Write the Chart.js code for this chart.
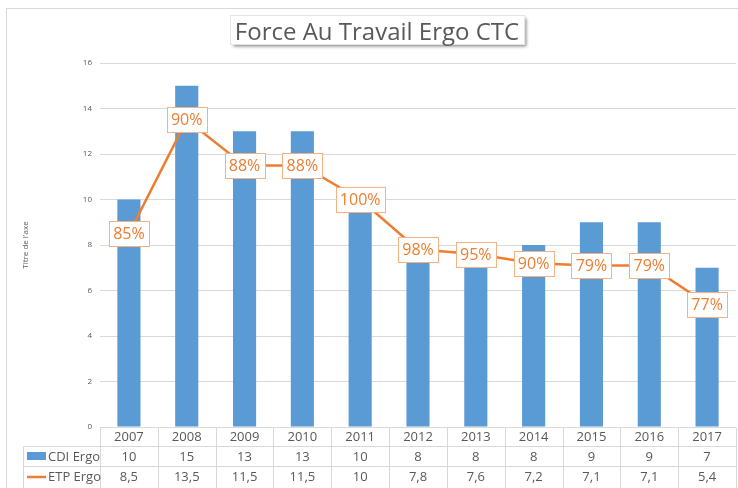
<!DOCTYPE html>
<html>
<head>
<meta charset="utf-8">
<script src="https://cdn.jsdelivr.net/npm/chart.js@4/dist/chart.umd.min.js"></script>
<style>
  html, body { margin: 0; padding: 0; background: #ffffff; }
  #wrap { width: 738px; height: 488px; }
</style>
</head>
<body>
<div id="wrap"><canvas id="c" width="738" height="488"></canvas></div>
<script>
// Years and the two series shown in the chart and in its data table
const years = ['2007', '2008', '2009', '2010', '2011', '2012', '2013', '2014', '2015', '2016', '2017'];
const cdiErgo = [10, 15, 13, 13, 10, 8, 8, 8, 9, 9, 7];
const etpErgo = [8.5, 13.5, 11.5, 11.5, 10, 7.8, 7.6, 7.2, 7.1, 7.1, 5.4];
const seriesNames = ['CDI Ergo', 'ETP Ergo'];
const chartTitle = 'Force Au Travail Ergo CTC';
const axisTitle = "Titre de l'axe";

const BLUE = '#5b9bd5';
const ORANGE = '#ed7d31';
const GRID = '#d9d9d9';
const TEXT = '#595959';
const FONT = '"Open Sans", "DejaVu Sans", sans-serif';

Chart.defaults.font.family = FONT;

// ETP / CDI ratio written on each point of the line
const ratioLabels = etpErgo.map((v, i) => Math.round(v / cdiErgo[i] * 100) + '%');
const fmt = v => String(v).replace('.', ',');

// Outer frame and boxed title
const framePlugin = {
  id: 'frame',
  beforeDraw(chart) {
    const ctx = chart.ctx;
    ctx.save();
    ctx.fillStyle = '#ffffff';
    ctx.fillRect(0, 0, chart.width, chart.height);
    ctx.strokeStyle = GRID;
    ctx.lineWidth = 1;
    ctx.strokeRect(6.5, 8.5, chart.width + 10, chart.height + 10);
    ctx.restore();
  },
  afterDraw(chart) {
    const ctx = chart.ctx;
    ctx.save();
    ctx.font = '24px ' + FONT;
    const tw = ctx.measureText(chartTitle).width;
    const cx = 377;
    const bw = tw + 10, bh = 29;
    const bx = Math.round(cx - bw / 2) + 0.5, by = 15.5;
    ctx.shadowColor = 'rgba(0,0,0,0.45)';
    ctx.shadowBlur = 3;
    ctx.shadowOffsetX = 2;
    ctx.shadowOffsetY = 2;
    ctx.fillStyle = '#ffffff';
    ctx.fillRect(bx, by, bw, bh);
    ctx.shadowColor = 'transparent';
    ctx.strokeStyle = '#e4e4e4';
    ctx.lineWidth = 1;
    ctx.strokeRect(bx, by, bw, bh);
    ctx.fillStyle = TEXT;
    ctx.textAlign = 'center';
    ctx.textBaseline = 'alphabetic';
    ctx.fillText(chartTitle, cx, 40);
    ctx.restore();
  }
};

// Boxed ratio labels on the line points
const ratioPlugin = {
  id: 'ratioLabels',
  afterDatasetsDraw(chart) {
    const ctx = chart.ctx;
    const meta = chart.getDatasetMeta(1);
    ctx.save();
    ctx.font = '16px ' + FONT;
    ctx.textAlign = 'center';
    ctx.textBaseline = 'middle';
    meta.data.forEach((pt, i) => {
      const txt = ratioLabels[i];
      const w = Math.round(ctx.measureText(txt).width + 8);
      const h = 25;
      const x = Math.round(pt.x - w / 2) + 0.5;
      const y = Math.round(pt.y - h / 2) + 0.5;
      ctx.fillStyle = '#ffffff';
      ctx.fillRect(x, y, w, h);
      ctx.strokeStyle = '#f4b183';
      ctx.lineWidth = 1;
      ctx.strokeRect(x, y, w, h);
      ctx.fillStyle = ORANGE;
      ctx.fillText(txt, pt.x, pt.y + 1);
    });
    ctx.restore();
  }
};

// Data table under the category axis
const tablePlugin = {
  id: 'dataTable',
  afterDraw(chart) {
    const ctx = chart.ctx;
    const xs = chart.scales.x;
    const area = chart.chartArea;
    const left = area.left, right = area.right;
    const colW = (right - left) / years.length;
    const top = Math.round(area.bottom) + 0.5;
    const r1 = 446.5, r2 = 466.5, bottom = chart.height;
    const legLeft = 23.5;
    ctx.save();
    ctx.strokeStyle = GRID;
    ctx.lineWidth = 1;
    ctx.beginPath();
    ctx.moveTo(left, top); ctx.lineTo(right, top);
    ctx.moveTo(legLeft, r1); ctx.lineTo(right, r1);
    ctx.moveTo(legLeft, r2); ctx.lineTo(right, r2);
    ctx.moveTo(legLeft, r1); ctx.lineTo(legLeft, bottom);
    for (let i = 0; i <= years.length; i++) {
      const x = Math.round(left + i * colW) + 0.5;
      ctx.moveTo(x, top); ctx.lineTo(x, bottom);
    }
    ctx.stroke();

    ctx.font = '13px ' + FONT;
    ctx.fillStyle = TEXT;
    ctx.textBaseline = 'middle';
    ctx.textAlign = 'center';
    years.forEach((y, i) => {
      const x = xs.getPixelForValue(i);
      ctx.fillText(fmt(cdiErgo[i]), x, 457);
      ctx.fillText(fmt(etpErgo[i]), x, 477);
    });

    // legend keys
    ctx.fillStyle = BLUE;
    ctx.fillRect(27, 452, 19, 8);
    ctx.strokeStyle = ORANGE;
    ctx.lineWidth = 2.5;
    ctx.beginPath();
    ctx.moveTo(27, 477); ctx.lineTo(46, 477);
    ctx.stroke();
    ctx.fillStyle = TEXT;
    ctx.textAlign = 'left';
    ctx.fillText(seriesNames[0], 48, 457);
    ctx.fillText(seriesNames[1], 48, 477);
    ctx.restore();
  }
};

new Chart(document.getElementById('c'), {
  data: {
    labels: years,
    datasets: [
      {
        type: 'bar',
        label: seriesNames[0],
        data: cdiErgo,
        backgroundColor: BLUE,
        borderWidth: 0,
        categoryPercentage: 1,
        barPercentage: 0.4,
        order: 2
      },
      {
        type: 'line',
        label: seriesNames[1],
        data: etpErgo,
        borderColor: ORANGE,
        backgroundColor: ORANGE,
        borderWidth: 2.5,
        pointRadius: 0,
        tension: 0,
        order: 1
      }
    ]
  },
  options: {
    responsive: false,
    animation: false,
    events: [],
    layout: { padding: { top: 63, left: 18, right: 2, bottom: 42 } },
    plugins: {
      legend: { display: false },
      tooltip: { enabled: false },
      title: { display: false }
    },
    scales: {
      x: {
        grid: { display: false, drawTicks: false },
        border: { display: false },
        ticks: { color: TEXT, font: { size: 13 }, padding: 2, maxRotation: 0 },
        afterFit(s) { s.height = 19; }
      },
      y: {
        min: 0,
        max: 16,
        ticks: { stepSize: 2, color: TEXT, font: { size: 8 }, padding: 8 },
        grid: { color: GRID, drawTicks: false },
        border: { display: false },
        title: { display: true, text: axisTitle, color: TEXT, font: { size: 8 }, padding: { top: 3, bottom: 0 } },
        afterFit(s) { s.width = 82; }
      }
    }
  },
  plugins: [framePlugin, ratioPlugin, tablePlugin]
});
</script>
</body>
</html>
